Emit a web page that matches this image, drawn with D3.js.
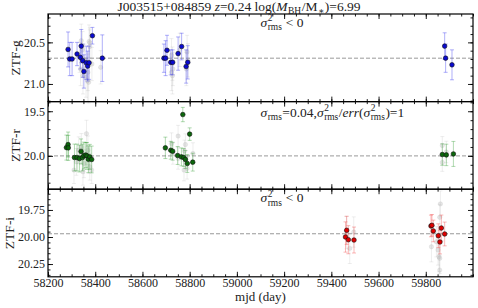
<!DOCTYPE html>
<html>
<head>
<meta charset="utf-8">
<script src="https://cdn.jsdelivr.net/npm/d3@7"></script>
<style>
  body { margin: 0; background: #fff; }
  svg { display: block; font-family: "Liberation Serif", "DejaVu Serif", serif; }
  text { fill: #222; white-space: pre; }
</style>
</head>
<body>
<script>
const width = 478;
const height = 308;
const plotL = 48;
const plotR = 473;
const panelTop = 14;
const panelH = 87.6;

// ZTF-g
const gMjd = [58285, 58292, 58302, 58323, 58337, 58341, 58347, 58352, 58362, 58368, 58374, 58388, 58430,
  58691, 58698, 58704, 58720, 58728, 58751, 58766, 58785, 58792, 59880, 59884, 59911];
const gMag = [20.585, 20.70, 20.70, 20.64, 20.68, 20.545, 20.72, 20.85, 20.745, 20.785, 20.745, 20.42, 20.69,
  20.69, 20.69, 20.595, 20.74, 20.74, 20.635, 20.55, 20.79, 20.74, 20.545, 20.69, 20.77];
const gErr = [0.21, 0.2, 0.2, 0.14, 0.14, 0.2, 0.2, 0.2, 0.2, 0.18, 0.2, 0.1, 0.28,
  0.17, 0.21, 0.18, 0.15, 0.15, 0.2, 0.16, 0.2, 0.2, 0.16, 0.17, 0.18];
const gBgMjd = [58341, 58346, 58355, 58361, 58367, 58369, 58374, 58377, 58334, 58338, 58372, 58386, 58423, 58348, 58377,
  58723, 58727, 58727, 58729, 58789, 58793, 58786, 58723, 58758];
const gBgMag = [20.48, 20.59, 20.72, 20.92, 20.96, 20.86, 20.49, 20.55, 20.68, 20.82, 20.98, 20.76, 20.80, 20.90, 20.505,
  20.655, 20.756, 20.90, 20.82, 20.615, 20.716, 20.82, 20.86, 20.59];
const gBgErr = [0.2, 0.22, 0.2, 0.24, 0.25, 0.22, 0.2, 0.2, 0.18, 0.2, 0.25, 0.2, 0.2, 0.22, 0.18,
  0.2, 0.2, 0.22, 0.2, 0.2, 0.2, 0.2, 0.22, 0.2];
const gMean = 20.69;

// ZTF-r
const rMjd = [58278, 58285, 58286, 58312, 58323, 58333, 58340, 58346, 58352, 58360, 58365, 58371, 58377, 58385,
  58697, 58720, 58728, 58749, 58765, 58771, 58775, 58782, 58790, 58800, 58813, 59870, 59887, 59917];
const rMag = [19.907, 19.873, 19.91, 20.018, 20.018, 20.03, 19.95, 20.018, 19.996, 19.99, 20.0, 20.037, 20.011, 20.04,
  19.91, 19.937, 19.948, 19.996, 20.011, 19.537, 20.018, 20.04, 20.085, 19.756, 20.07, 19.985, 19.989, 19.978];
const rErr = [0.14, 0.14, 0.14, 0.15, 0.15, 0.15, 0.14, 0.15, 0.15, 0.14, 0.15, 0.15, 0.14, 0.15,
  0.12, 0.1, 0.1, 0.1, 0.1, 0.08, 0.1, 0.1, 0.1, 0.07, 0.1, 0.12, 0.12, 0.14];
const rBgMjd = [58310, 58363, 58352, 58372, 58348, 58377, 58320, 58341, 58369, 58330, 58385,
  58751, 58782, 58778, 58751, 58776, 58789, 58814, 58729, 58723, 59870, 59870, 59887];
const rBgMag = [20.159, 19.751, 20.084, 20.048, 20.178, 20.122, 20.067, 19.90, 19.937, 19.937, 20.159,
  19.778, 19.873, 19.944, 20.029, 20.159, 20.14, 19.973, 19.973, 19.862, 19.884, 20.073, 19.956];
const rBgErr = [0.15, 0.15, 0.16, 0.15, 0.15, 0.15, 0.15, 0.15, 0.16, 0.15, 0.15,
  0.12, 0.12, 0.12, 0.12, 0.12, 0.12, 0.12, 0.12, 0.12, 0.1, 0.1, 0.12];
const rMean = 20.0;

// ZTF-i
const iMjd = [59460, 59465, 59472, 59496, 59822, 59826, 59832, 59853, 59860, 59866, 59880];
const iMag = [20.0, 19.938, 20.025, 20.028, 19.898, 19.892, 19.944, 19.988, 20.046, 19.917, 19.972];
const iErr = [0.14, 0.13, 0.13, 0.12, 0.1, 0.1, 0.1, 0.11, 0.11, 0.12, 0.11];
const iBgMjd = [59464, 59478, 59495, 59862, 59859, 59824, 59852, 59856, 59859, 59859, 59845];
const iBgMag = [19.96, 20.105, 19.954, 19.694, 19.818, 20.09, 20.12, 20.182, 20.197, 20.306, 20.044];
const iBgErr = [0.15, 0.14, 0.14, 0.12, 0.12, 0.14, 0.14, 0.14, 0.14, 0.14, 0.14];
const iMean = 19.97;

const xTicks = d3.range(58200, 59801, 200);
const xMinor = d3.range(58200, 60001, 50);

const panels = [
  { label: "ZTF-g", labelX: 19.5, domain: [20.159, 21.212], ticks: [20.5, 21.0], minor: 0.1, fmt: ".1f",
    mjd: gMjd, mag: gMag, err: gErr, bgMjd: gBgMjd, bgMag: gBgMag, bgErr: gBgErr, mean: gMean,
    fill: "#0a0ad0", bar: "rgba(60,60,240,0.45)",
    note: [{ t: "σ", it: true }, { sup: "2", sub: "rms" }, { t: " < 0" }] },
  { label: "ZTF-r", labelX: 19.5, domain: [19.392, 20.373], ticks: [19.5, 20.0], minor: 0.1, fmt: ".1f",
    mjd: rMjd, mag: rMag, err: rErr, bgMjd: rBgMjd, bgMag: rBgMag, bgErr: rBgErr, mean: rMean,
    fill: "#0b660b", bar: "rgba(40,150,40,0.4)",
    note: [{ t: "σ", it: true }, { sub: "rms" }, { t: "=0.04," }, { t: "σ", it: true }, { sup: "2", sub: "rms" },
      { t: "/" }, { t: "err", it: true }, { t: "(" }, { t: "σ", it: true }, { sup: "2", sub: "rms" }, { t: ")=1" }] },
  { label: "ZTF-i", labelX: 13.5, domain: [19.558, 20.368], ticks: [19.75, 20.0, 20.25], minor: 0.05, fmt: ".2f",
    mjd: iMjd, mag: iMag, err: iErr, bgMjd: iBgMjd, bgMag: iBgMag, bgErr: iBgErr, mean: iMean,
    fill: "#e00000", bar: "rgba(240,60,60,0.4)",
    note: [{ t: "σ", it: true }, { sup: "2", sub: "rms" }, { t: " < 0" }] }
];

const svg = d3.select("body").append("svg").attr("width", width).attr("height", height);
const x = d3.scaleLinear().domain([58200, 60000]).range([plotL, plotR]);

// text with sub/superscripts, laid out piece by piece
const richText = (parent, px, py, parts, size, anchor) => {
  const grp = parent.append("g").style("font-size", size + "px");
  let cx = 0;
  parts.forEach((p) => {
    if (p.sup !== undefined || p.sub !== undefined) {
      let w = 0;
      if (p.sup) {
        const t = grp.append("text").attr("x", cx + 0.5).attr("y", -size * 0.42)
          .style("font-size", size * 0.7 + "px").text(p.sup);
        w = Math.max(w, t.node().getComputedTextLength());
      }
      if (p.sub) {
        const t = grp.append("text").attr("x", cx + 0.5).attr("y", size * 0.25)
          .style("font-size", size * 0.7 + "px").text(p.sub);
        w = Math.max(w, t.node().getComputedTextLength());
      }
      cx += w + 1;
    } else {
      const t = grp.append("text").attr("x", cx).attr("y", 0)
        .style("font-style", p.it ? "italic" : "normal").text(p.t);
      cx += t.node().getComputedTextLength();
    }
  });
  const off = anchor === "middle" ? -cx / 2 : 0;
  grp.attr("transform", `translate(${px + off},${py})`);
};

const drawErr = (g, mjd, mag, err, y, color) => {
  mjd.forEach((m, i) => {
    const cx = x(m);
    const y0 = y(mag[i] - err[i]);
    const y1 = y(mag[i] + err[i]);
    g.append("line").attr("x1", cx).attr("x2", cx).attr("y1", y0).attr("y2", y1)
      .style("stroke", color).style("stroke-width", 0.9);
    [y0, y1].forEach((yy) => {
      g.append("line").attr("x1", cx - 2).attr("x2", cx + 2).attr("y1", yy).attr("y2", yy)
        .style("stroke", color).style("stroke-width", 0.9);
    });
  });
};

panels.forEach((p, k) => {
  const top = panelTop + k * panelH;
  const bottom = top + panelH;
  const y = d3.scaleLinear().domain(p.domain).range([top, bottom]);
  const g = svg.append("g");

  // mean line
  g.append("line").attr("x1", plotL).attr("x2", plotR)
    .attr("y1", y(p.mean)).attr("y2", y(p.mean))
    .style("stroke", "#999").style("stroke-width", 1).style("stroke-dasharray", "4,2");

  // comparison points in gray
  drawErr(g, p.bgMjd, p.bgMag, p.bgErr, y, "rgba(170,170,170,0.22)");
  g.selectAll("circle.bg").data(p.bgMjd).enter().append("circle").classed("bg", true)
    .attr("cx", (d) => x(d)).attr("cy", (d, i) => y(p.bgMag[i])).attr("r", 2.2)
    .style("fill", "rgba(185,185,185,0.35)").style("stroke", "rgba(160,160,160,0.3)").style("stroke-width", 0.5);

  // object
  drawErr(g, p.mjd, p.mag, p.err, y, p.bar);
  g.selectAll("circle.pt").data(p.mjd).enter().append("circle").classed("pt", true)
    .attr("cx", (d) => x(d)).attr("cy", (d, i) => y(p.mag[i])).attr("r", 2.3)
    .style("fill", p.fill).style("stroke", "#111").style("stroke-width", 0.6);

  // axes with inward ticks
  const axisStyle = (sel) => {
    sel.select(".domain").remove();
    sel.selectAll("line").style("stroke", "#000").style("stroke-width", 0.9);
    sel.selectAll("text").style("font-size", "12px").style("fill", "#222")
      .style("font-family", "Liberation Serif, serif");
  };
  g.append("g").attr("transform", `translate(0,${bottom})`)
    .call(d3.axisBottom(x).tickValues(xTicks).tickSize(-5).tickPadding(2)
      .tickFormat(k === 2 ? d3.format("d") : () => ""))
    .call(axisStyle);
  g.append("g").attr("transform", `translate(0,${bottom})`)
    .call(d3.axisBottom(x).tickValues(xMinor).tickSize(-2.5).tickFormat(() => ""))
    .call(axisStyle);
  g.append("g").attr("transform", `translate(0,${top})`)
    .call(d3.axisTop(x).tickValues(xTicks).tickSize(-5).tickFormat(() => ""))
    .call(axisStyle);
  g.append("g").attr("transform", `translate(0,${top})`)
    .call(d3.axisTop(x).tickValues(xMinor).tickSize(-2.5).tickFormat(() => ""))
    .call(axisStyle);

  const yMinor = d3.range(Math.ceil(p.domain[0] / p.minor) * p.minor, p.domain[1], p.minor);
  g.append("g").attr("transform", `translate(${plotL},0)`)
    .call(d3.axisLeft(y).tickValues(p.ticks).tickSize(-5).tickPadding(3).tickFormat(d3.format(p.fmt)))
    .call(axisStyle);
  g.append("g").attr("transform", `translate(${plotL},0)`)
    .call(d3.axisLeft(y).tickValues(yMinor).tickSize(-2.5).tickFormat(() => ""))
    .call(axisStyle);
  g.append("g").attr("transform", `translate(${plotR},0)`)
    .call(d3.axisRight(y).tickValues(p.ticks).tickSize(-5).tickFormat(() => ""))
    .call(axisStyle);
  g.append("g").attr("transform", `translate(${plotR},0)`)
    .call(d3.axisRight(y).tickValues(yMinor).tickSize(-2.5).tickFormat(() => ""))
    .call(axisStyle);

  // frame
  g.append("rect").attr("x", plotL).attr("y", top).attr("width", plotR - plotL).attr("height", panelH)
    .style("fill", "none").style("stroke", "#000").style("stroke-width", 1.2);

  // y label
  g.append("text").attr("transform", `translate(${p.labelX},${(top + bottom) / 2}) rotate(-90)`)
    .attr("text-anchor", "middle").style("font-size", "13.5px").text(p.label);

  // annotation
  richText(g, x(59100), top + (k === 1 ? 15 : 13), p.note, 13.5, "start");
});

// title
richText(svg, 239, 10.5, [
  { t: "J003515+084859 " }, { t: "z", it: true }, { t: "=0.24 log(" }, { t: "M", it: true }, { sub: "BH" },
  { t: "/M" }, { sub: "∗" }, { t: ")=6.99" }
], 13.5, "middle");

// x label
svg.append("text").attr("x", (plotL + plotR) / 2).attr("y", 300.5).attr("text-anchor", "middle")
  .style("font-size", "13px").text("mjd (day)");
</script>
</body>
</html>
